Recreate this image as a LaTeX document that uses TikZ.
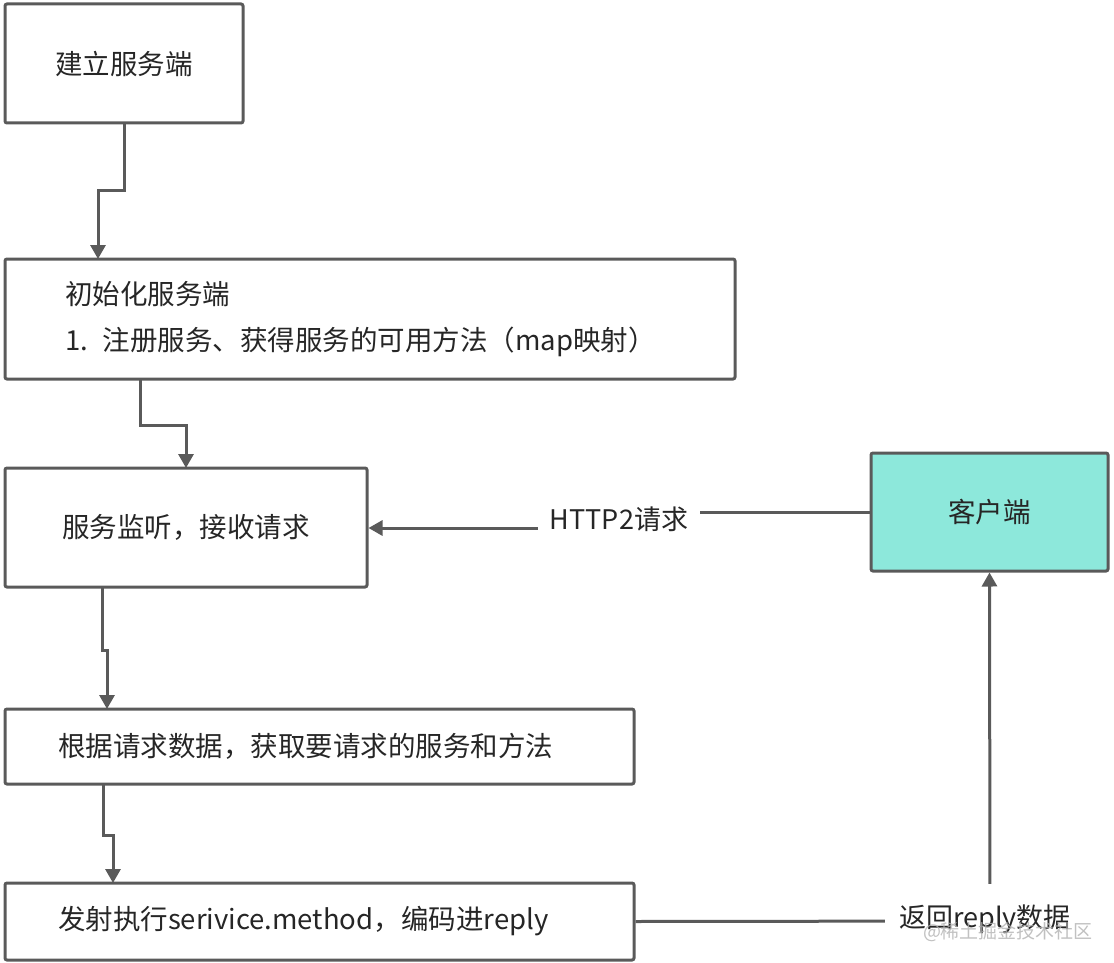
\documentclass[tikz,border=0pt]{standalone}
\usepackage{fontspec}
\setmainfont{Noto Sans CJK SC}
\usetikzlibrary{arrows.meta}
\definecolor{lineGray}{HTML}{5A5A5A}
\definecolor{clientCyan}{HTML}{8DE8DB}

\begin{document}
\begin{tikzpicture}
[x=1pt,y=-1pt,
  boxDecorate/.style={rectangle,draw=lineGray,line width=3pt,rounded corners=2pt,
    font=\fontsize{27.5}{46}\selectfont,text=black!85},%
  lineDecorate/.style={-,draw=lineGray,line width=3pt},%
  arrowDecorate/.style={lineDecorate,-{Triangle[width=15pt,length=14pt]}},%
  labelDecorate/.style={fill=white,inner sep=4pt,font=\fontsize{27}{30}\selectfont,text=black!85}]
\useasboundingbox (0,0) rectangle (1114,963);
%% boxes
\node (build) at (124,63.5) [boxDecorate,minimum width=238pt,minimum height=119pt] {建立服务端};
\node (init) at (370,319) [boxDecorate,minimum height=120pt,text width=610pt,inner xsep=60pt,align=left]
  {初始化服务端\\\makebox[38pt][l]{1.}注册服务、获得服务的可用方法（map映射）};
\node (listen) at (186,527.5) [boxDecorate,minimum height=119pt,text width=248pt,inner xsep=57pt,align=left] {服务监听，接收请求};
\node (parse) at (319.5,746.5) [boxDecorate,minimum height=75pt,text width=523pt,inner xsep=53pt,align=left] {根据请求数据，获取要请求的服务和方法};
\node (call) at (319.5,921.5) [boxDecorate,minimum height=77pt,text width=523pt,inner xsep=53pt,align=left] {发射执行serivice.method，编码进reply};
\node (client) at (989.5,512) [boxDecorate,fill=clientCyan,minimum width=237pt,minimum height=118pt] {客户端};
%% elbow arrows down the left column
\draw[arrowDecorate] (124,123) -- (124,190) -- (98,190) -- (98,259);
\draw[arrowDecorate] (140,379) -- (140,425) -- (186,425) -- (186,468);
\draw[arrowDecorate] (102,587) -- (102,650) -- (107,650) -- (107,709);
\draw[arrowDecorate] (103,784) -- (103,835) -- (113,835) -- (113,883);
%% request and reply
\coordinate (reqBend) at (619,512);
\draw[arrowDecorate] (client.west) -- (reqBend) -- ++(0,16) -- (listen.east |- 0,528);
\node (req) at (619,519) [labelDecorate,inner xsep=12pt] {HTTP2请求};
\coordinate (replyCorner) at (990,921);
\draw[arrowDecorate] (call.east) -- (replyCorner) -- (client.south);
\node (reply) at (985,919) [labelDecorate,inner xsep=14pt,inner ysep=20pt] {返回reply数据};
\node (mark) at (1008,932) [font=\fontsize{19}{20}\selectfont,text=black!30,opacity=0.8] {@稀土掘金技术社区};
\end{tikzpicture}
\end{document}
